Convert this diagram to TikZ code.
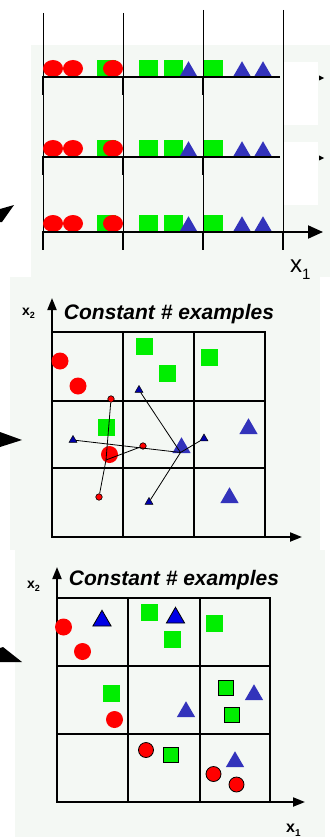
\documentclass[tikz,border=0pt]{standalone}
\usepackage{fontspec}
\setmainfont{Liberation Sans}
\usepackage{tikz}
\usetikzlibrary{shapes.geometric, arrows.meta, positioning}
\definecolor{bgpanel}{RGB}{244,248,244}
\definecolor{ptred}{RGB}{255,0,0}
\definecolor{ptgreen}{RGB}{0,238,0}
\definecolor{ptblue}{RGB}{51,51,187}
\definecolor{ptbright}{RGB}{0,0,230}
\definecolor{ptdark}{RGB}{0,0,170}
\tikzset{
    red_ell/.style={
        ellipse, fill=ptred, minimum width=20pt, minimum height=17pt, inner sep=0pt
    },
    red_pt/.style={
        circle, fill=ptred, minimum size=17pt, inner sep=0pt
    },
    red_pt_out/.style={
        red_pt, draw=black, line width=0.8pt, minimum size=15pt
    },
    green_sq/.style={
        rectangle, fill=ptgreen, minimum size=17pt, inner sep=0pt
    },
    green_sq_out/.style={
        green_sq, draw=black, line width=0.8pt, minimum size=15pt
    },
    blue_tri/.style={
        regular polygon, regular polygon sides=3, fill=ptblue, minimum size=21pt, inner sep=0pt
    },
    blue_tri_out/.style={
        blue_tri, fill=ptbright, draw=black, line width=0.8pt
    },
    small_red/.style={
        circle, fill=ptred, draw=black, line width=0.6pt, minimum size=6.5pt, inner sep=0pt
    },
    small_tri/.style={
        regular polygon, regular polygon sides=3, fill=ptdark, draw=black, line width=0.5pt, minimum size=9pt, inner sep=0pt
    },
    nn_link/.style={
        line width=0.8pt, draw=black
    },
    thin_line/.style={
        line width=1pt, draw=black
    },
    tick_line/.style={
        line width=2.4pt, draw=black
    },
    axis_line/.style={
        line width=2pt, draw=black
    },
    grid_line/.style={
        line width=1.8pt, draw=black
    },
    big_tip/.style={
        -{Triangle[length=15pt, width=13pt]}
    },
    mid_tip/.style={
        -{Triangle[length=12pt, width=9pt]}
    },
    title_lbl/.style={
        inner sep=0pt, font=\fontsize{21}{24}\selectfont\bfseries\itshape
    },
    axis_lbl/.style={
        inner sep=0pt, font=\fontsize{14}{14}\selectfont\bfseries
    }
}

\begin{document}
\begin{tikzpicture}[x=1pt, y=-1pt]
    \useasboundingbox (0,0) rectangle (334,837);

    % panel backgrounds
    \fill[bgpanel] (31,45) rectangle (330,277);
    \fill[white] (284,62) rectangle (318,125);
    \fill[white] (284,142) rectangle (318,205);
    \fill[bgpanel] (10,277) rectangle (320,550);
    \fill[bgpanel] (15,550) rectangle (325,837);

    % cut-off arrows on the left
    \fill[black] (0,209) -- (14,205) -- (2,222) -- (0,222) -- cycle;
    \fill[black] (0,432) -- (22,440) -- (0,447) -- cycle;
    \fill[black] (0,648) -- (3,647) -- (22,662) -- (0,662) -- cycle;

    % ---- top: bins along x1 ----
    \foreach \xv/\yt in {43/13, 123/13, 203/10, 283/10}
        \draw[thin_line] (\xv,\yt) -- (\xv,250);
    \foreach \yb [count=\r] in {77, 157, 232} {
        \node[green_sq, minimum width=19pt] (sqa\r) at (106,\yb-8.5) {};
        \node[red_ell] (ra\r) at (53,\yb-8.5) {};
        \node[red_ell] (rb\r) at (73,\yb-8.5) {};
        \node[red_ell] (rc\r) at (113,\yb-8.5) {};
        \node[green_sq, minimum width=19pt] (sqb\r) at (148,\yb-8.5) {};
        \node[green_sq, minimum width=19pt] (sqc\r) at (173,\yb-8.5) {};
        \node[blue_tri] (ta\r) at (188.5,\yb-5.25) {};
        \node[green_sq, minimum width=19pt] (sqd\r) at (213,\yb-8.5) {};
        \node[blue_tri] (tb\r) at (242,\yb-5.25) {};
        \node[blue_tri] (tc\r) at (263,\yb-5.25) {};
        \foreach \xt in {43, 123, 203}
            \draw[tick_line] (\xt,\yb) -- (\xt,\yb+18);
    }
    \draw[axis_line] (42,77) -- (280,77);
    \draw[axis_line] (42,157) -- (280,157);
    \draw[axis_line, big_tip] (42,232) -- (323,232);
    \draw[tick_line] (283,232) -- (283,250);
    \fill (319,75.5) -- (324,78) -- (319,80.5) -- cycle;
    \fill (319,155.5) -- (324,158) -- (319,160.5) -- cycle;
    \node[inner sep=0pt, anchor=base west, font=\fontsize{24}{24}\selectfont] (x1top) at (290,272)
        {x\raisebox{-7pt}{\fontsize{15}{15}\selectfont 1}};

    % ---- middle: constant # examples, neighbours ----
    \draw[grid_line] (52,332) rectangle (265,537);
    \draw[grid_line] (123,332) -- (123,537) (194,332) -- (194,537)
        (52,401) -- (265,401) (52,468) -- (265,468);
    \draw[axis_line, mid_tip] (52,537) -- (52,298);
    \draw[axis_line, mid_tip] (52,537) -- (302,537);
    \node[title_lbl, anchor=base] (ttlm) at (169,319) {Constant \# examples};
    \node[axis_lbl, anchor=base west] (x2m) at (22,315)
        {x\raisebox{-3pt}{\fontsize{9}{9}\selectfont 2}};

    \node[red_pt] (mra) at (60,361) {};
    \node[red_pt] (mrb) at (78,386) {};
    \node[green_sq] (msa) at (144.5,346.5) {};
    \node[green_sq] (msb) at (167,373.5) {};
    \node[green_sq] (msc) at (209.5,357.5) {};
    \node[green_sq] (msd) at (106.5,427.5) {};
    \node[red_pt] (mrc) at (109.5,454.5) {};
    \node[blue_tri] (mta) at (181.5,447.75) {};
    \node[blue_tri] (mtb) at (248.5,428.75) {};
    \node[blue_tri] (mtc) at (229.5,497.75) {};

    \coordinate (rhub) at (106,460);
    \coordinate (bhub) at (180.5,452.5);
    \node[small_red] (qra) at (111,399) {};
    \node[small_red] (qrb) at (143,446) {};
    \node[small_red] (qrc) at (99,497) {};
    \node[small_tri] (qta) at (73,440) {};
    \node[small_tri] (qtb) at (139,390) {};
    \node[small_tri] (qtc) at (204,438.5) {};
    \node[small_tri] (qtd) at (149,502) {};
    \draw[nn_link] (qra) -- (rhub) -- (qrc);
    \draw[nn_link] (qrb) -- (rhub);
    \draw[nn_link] (qta) -- (bhub);
    \draw[nn_link] (qtb) -- (bhub);
    \draw[nn_link] (qtc) -- (bhub) -- (qtd);

    % ---- bottom: constant # examples, shuffled ----
    \draw[grid_line] (57,598) rectangle (270,802);
    \draw[grid_line] (128,598) -- (128,802) (200,598) -- (200,802)
        (57,666) -- (270,666) (57,734) -- (270,734);
    \draw[axis_line, mid_tip] (57,802) -- (57,567);
    \draw[axis_line, mid_tip] (57,802) -- (305,802);
    \node[title_lbl, anchor=base] (ttlb) at (174,585) {Constant \# examples};
    \node[axis_lbl, anchor=base west] (x2b) at (27,588)
        {x\raisebox{-3pt}{\fontsize{9}{9}\selectfont 2}};
    \node[inner sep=0pt, anchor=base west, font=\fontsize{16}{16}\selectfont\bfseries] (x1b) at (286,832)
        {x\raisebox{-4pt}{\fontsize{10}{10}\selectfont 1}};

    \node[red_pt] (bra) at (63.5,627) {};
    \node[red_pt] (brb) at (82.5,651.5) {};
    \node[blue_tri_out] (bta) at (102,620.75) {};
    \node[green_sq] (bsa) at (149.5,612.5) {};
    \node[blue_tri_out] (btb) at (175.5,617.75) {};
    \node[green_sq] (bsb) at (172,639) {};
    \node[green_sq] (bsc) at (214.5,623) {};
    \node[green_sq] (bsd) at (111.5,693) {};
    \node[red_pt] (brc) at (114.5,719.5) {};
    \node[blue_tri] (btc) at (186,711.75) {};
    \node[green_sq_out] (bse) at (226,687.5) {};
    \node[blue_tri] (btd) at (254,694.75) {};
    \node[green_sq_out] (bsf) at (232,715) {};
    \node[red_pt_out] (brd) at (146,750) {};
    \node[green_sq_out] (bsg) at (170.5,754.5) {};
    \node[blue_tri] (bte) at (235,761.75) {};
    \node[red_pt_out] (bre) at (213.5,774) {};
    \node[red_pt_out] (brf) at (236.5,784.5) {};
\end{tikzpicture}
\end{document}
